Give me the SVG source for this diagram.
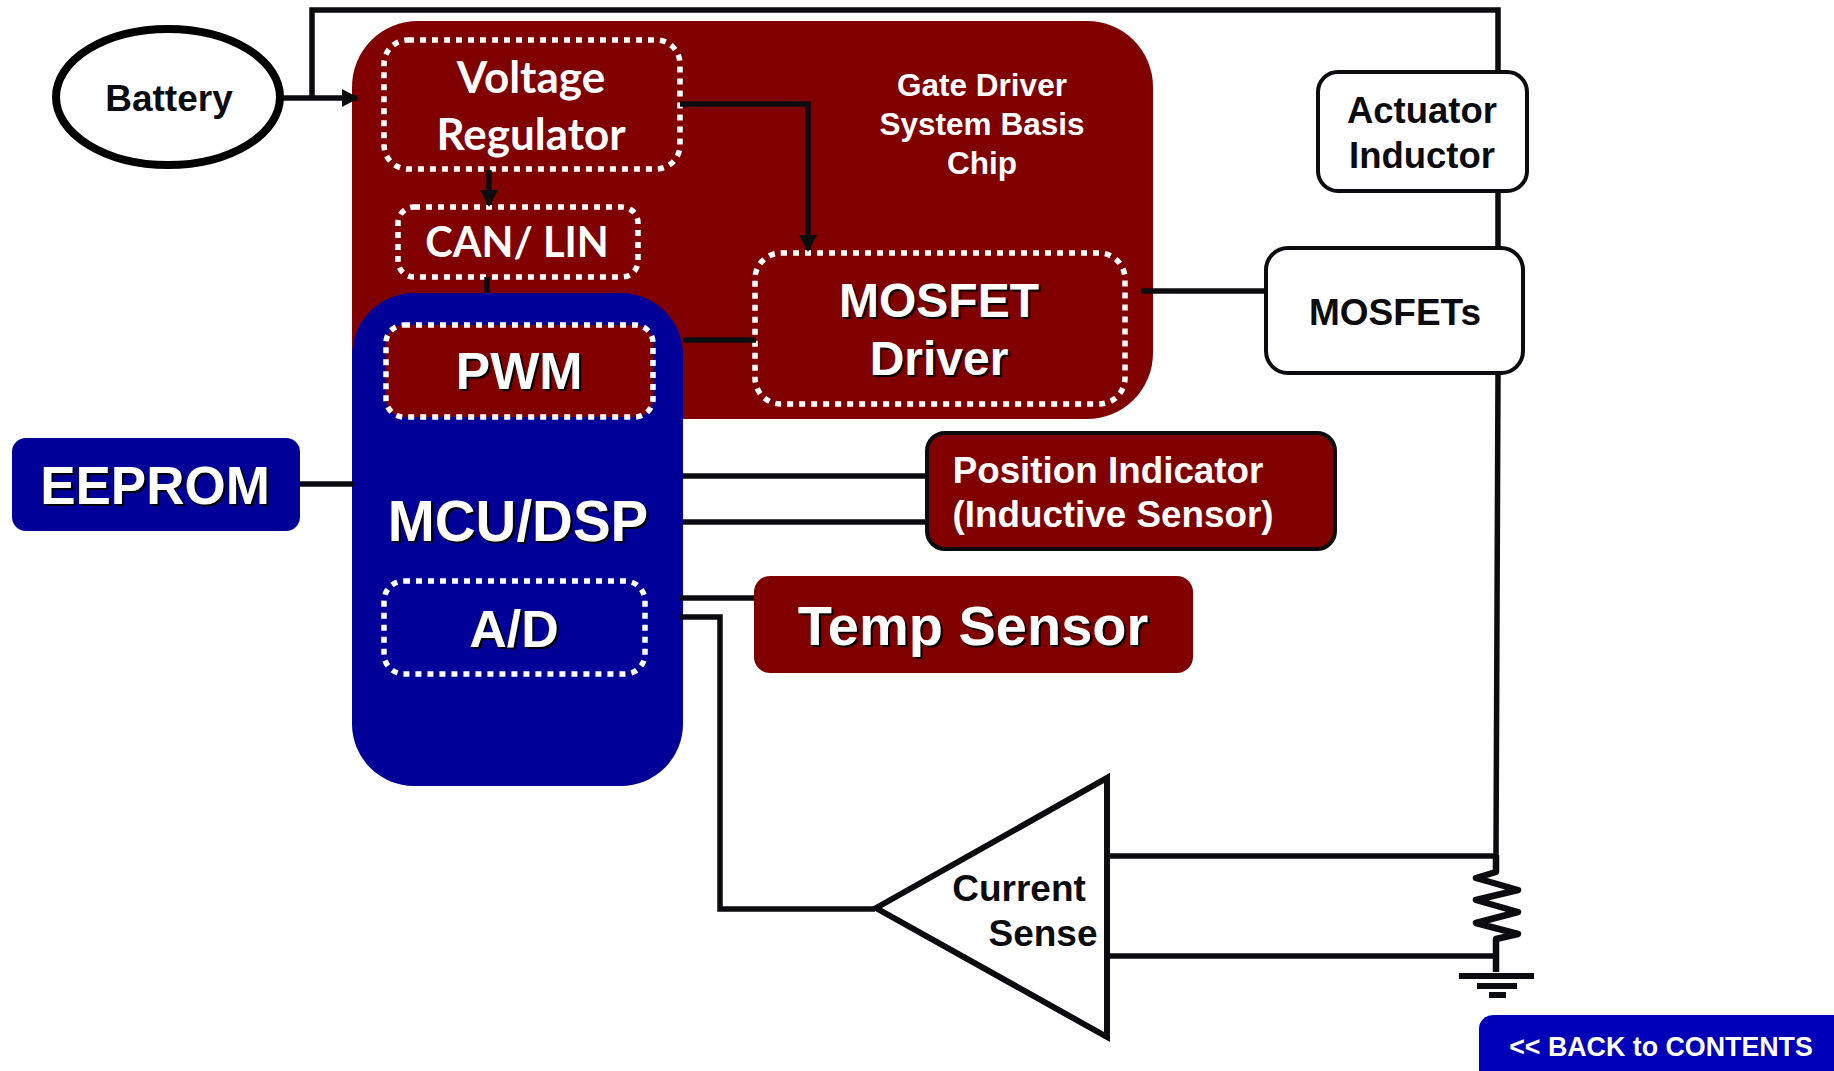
<svg xmlns="http://www.w3.org/2000/svg" width="1834" height="1071" viewBox="0 0 1834 1071">
<style>
text{font-family:"Liberation Sans",Arial,sans-serif;font-weight:700;text-anchor:middle}
.k{fill:#0c0c10}.w{fill:#fff}
.s{fill:#fff;text-shadow:2px 2px 1px #000}
.c{font-family:Lato,"Noto Sans",sans-serif;font-weight:700;fill:#fff}
.l{fill:none;stroke:#0c0c10;stroke-width:5.5}
.d{fill:none;stroke:#fff;stroke-width:5.5;stroke-dasharray:6 6}
.r{fill:#800000}.b{fill:#000099}
.o{fill:#fff;stroke:#0c0c10;stroke-width:4}
</style>
<defs><marker id="a" markerUnits="userSpaceOnUse" markerWidth="18" markerHeight="18" refX="15" refY="9" orient="auto"><path d="M0 0L17 9L0 18Z" fill="#0c0c10"/></marker></defs>
<g id="gate-driver"><rect class="r" x="352" y="21" width="801" height="398" rx="66"/>
<text class="w" font-size="31.5" x="982" y="96">Gate Driver</text><text class="w" font-size="31.5" x="982" y="135">System Basis</text><text class="w" font-size="31.5" x="982" y="174">Chip</text></g>
<g id="mcu"><rect class="b" x="352" y="293" width="331" height="493" rx="62"/><text class="s" font-size="56.5" x="518" y="541">MCU/DSP</text></g>
<g id="voltage-regulator"><rect class="d" x="384" y="40" width="296" height="129" rx="24"/><text class="c" font-size="44" x="531" y="93">Voltage</text><text class="c" font-size="44" x="531" y="150">Regulator</text></g>
<g id="can-lin"><rect class="d" x="398" y="207" width="240" height="70" rx="16"/><text class="c" font-size="41.5" x="517" y="257">CAN/ LIN</text></g>
<g id="mosfet-driver"><rect class="d" x="755" y="253" width="370" height="151" rx="26"/><text class="s" font-size="48" x="939" y="317">MOSFET</text><text class="s" font-size="48" x="939" y="375">Driver</text></g>
<g id="pwm"><rect class="r" x="386" y="325" width="267" height="92" rx="18"/><rect class="d" x="386" y="325" width="267" height="92" rx="18"/><text class="s" font-size="52" x="519" y="389">PWM</text></g>
<g id="ad"><rect class="d" x="384" y="581" width="261" height="93" rx="20"/><text class="s" font-size="52" x="514" y="647">A/D</text></g>
<g id="connectors">
<path class="l" d="M312 98V10H1498V373L1496 855"/>
<path class="l" d="M280 98H357" marker-end="url(#a)"/>
<path class="l" d="M680 104H808V250" marker-end="url(#a)"/>
<path class="l" d="M489 170V205" marker-end="url(#a)"/>
<path class="l" d="M487 277V293"/>
<path class="l" d="M683 340H756"/>
<path class="l" d="M1141 291H1266"/>
<path class="l" d="M298 484H353"/>
<path class="l" d="M683 476H926"/>
<path class="l" d="M683 522H926"/>
<path class="l" d="M680 598H754"/>
<path class="l" d="M680 617H720V909H875"/>
<path class="l" d="M1107 856H1498"/>
<path class="l" d="M1107 956H1498"/>
<path d="M1496 855V872L1476 878L1518 890L1476 900L1518 912L1476 923L1518 934L1496 939V972" fill="none" stroke="#0c0c10" stroke-width="6.5" stroke-linejoin="round"/>
<path d="M1459 973H1534V979H1459ZM1477 983H1517V989H1477ZM1489 992H1506V998H1489Z" class="k"/>
</g>
<g id="battery"><ellipse cx="168" cy="97" rx="112" ry="68" fill="#fff" stroke="#000" stroke-width="8"/><text class="k" font-size="37" x="169" y="111">Battery</text></g>
<g id="eeprom"><rect class="b" x="12" y="438" width="288" height="93" rx="14"/><text class="s" font-size="53" x="155" y="504">EEPROM</text></g>
<g id="actuator"><rect class="o" x="1318" y="72" width="209" height="119" rx="20"/><text class="k" font-size="36.5" x="1422" y="123">Actuator</text><text class="k" font-size="36.5" x="1422" y="168">Inductor</text></g>
<g id="mosfets"><rect class="o" x="1266" y="248" width="257" height="125" rx="22"/><text class="k" font-size="37" x="1395" y="325">MOSFETs</text></g>
<g id="position"><rect class="r" x="927" y="433" width="408" height="116" rx="18" stroke="#0c0c10" stroke-width="4"/><text class="w" font-size="36.8" x="1108" y="483">Position Indicator</text><text class="w" font-size="36.8" x="1113" y="527">(Inductive Sensor)</text></g>
<g id="temp"><rect class="r" x="754" y="576" width="439" height="97" rx="16"/><text class="s" font-size="56" x="973" y="645">Temp Sensor</text></g>
<g id="current-sense"><path d="M876 908L1107 778V1037Z" fill="#fff" stroke="#0c0c10" stroke-width="6"/><text class="k" font-size="37" x="1019" y="901">Current</text><text class="k" font-size="37" x="1043" y="946">Sense</text></g>
<g id="back"><rect x="1479" y="1015" width="380" height="80" rx="14" fill="#0000b8"/><text class="w" font-size="26.8" x="1661" y="1056">&lt;&lt; BACK to CONTENTS</text></g>
</svg>
